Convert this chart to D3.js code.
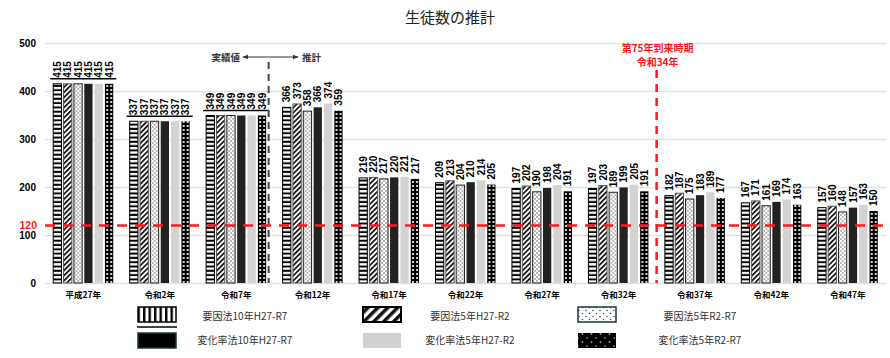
<!DOCTYPE html>
<html>
<head>
<meta charset="utf-8">
<script src="https://cdn.jsdelivr.net/npm/d3@7"></script>
<style>
  html, body { margin: 0; padding: 0; background: #fff; }
  svg { display: block; font-family: "Liberation Sans", Arial, "Noto Sans CJK JP", sans-serif; }
</style>
</head>
<body>
<svg id="chart" width="890" height="358"></svg>
<script>
// ---- data ----
const categories = ["平成27年","令和2年","令和7年","令和12年","令和17年","令和22年","令和27年","令和32年","令和37年","令和42年","令和47年"];
const seriesNames = ["要因法10年H27-R7","要因法5年H27-R2","要因法5年R2-R7","変化率法10年H27-R7","変化率法5年H27-R2","変化率法5年R2-R7"];
const youin10_H27R7 = [415,337,349,366,219,209,197,197,182,167,157];
const youin5_H27R2  = [415,337,349,373,220,213,202,203,187,171,160];
const youin5_R2R7   = [415,337,349,358,217,204,190,189,175,161,148];
const henka10_H27R7 = [415,337,349,366,220,210,198,199,183,169,157];
const henka5_H27R2  = [415,337,349,374,221,214,204,205,189,174,163];
const henka5_R2R7   = [415,337,349,359,217,205,191,191,177,163,150];
const yTicks = [0,100,200,300,400,500];
const refValue = 120;
const refLabel = "120";
const actualCategories = ["平成27年","令和2年","令和7年"];
const milestoneAfter = "令和32年";
const milestoneText = ["第75年到来時期","令和34年"];
const titleText = "生徒数の推計";

const seriesValues = [youin10_H27R7, youin5_H27R2, youin5_R2R7, henka10_H27R7, henka5_H27R2, henka5_R2R7];

// ---- setup ----
const svg = d3.select("#chart");
const defs = svg.append("defs");

function pat(id, w, h, transform) {
  const p = defs.append("pattern").attr("id", id).attr("patternUnits", "userSpaceOnUse")
    .attr("width", w).attr("height", h);
  if (transform) p.attr("patternTransform", transform);
  return p;
}
// bar patterns
let p = pat("pHStripe", 8, 4.3);
p.append("rect").attr("width", 8).attr("height", 4.3).attr("fill", "#000");
p.append("rect").attr("y", 0.9).attr("width", 8).attr("height", 2.3).attr("fill", "#fff");

p = pat("pDiag", 3.6, 3.6, "rotate(45)");
p.append("rect").attr("width", 3.6).attr("height", 3.6).attr("fill", "#fff");
p.append("rect").attr("width", 1.7).attr("height", 3.6).attr("fill", "#111");

p = pat("pDots", 4, 4);
p.append("rect").attr("width", 4).attr("height", 4).attr("fill", "#fff");
p.append("circle").attr("cx", 1).attr("cy", 1).attr("r", 0.65).attr("fill", "#333");
p.append("circle").attr("cx", 3).attr("cy", 3).attr("r", 0.65).attr("fill", "#333");

p = pat("pBlackDots", 4, 4);
p.append("rect").attr("width", 4).attr("height", 4).attr("fill", "#000");
p.append("circle").attr("cx", 2).attr("cy", 2).attr("r", 1.1).attr("fill", "#fff");

// legend patterns
p = pat("lVStripe", 5.5, 6);
p.append("rect").attr("width", 5.5).attr("height", 6).attr("fill", "#fff");
p.append("rect").attr("width", 2.4).attr("height", 6).attr("fill", "#000");

p = pat("lDiag", 7, 7, "rotate(45)");
p.append("rect").attr("width", 7).attr("height", 7).attr("fill", "#fff");
p.append("rect").attr("width", 3.5).attr("height", 7).attr("fill", "#111");

p = pat("lDots", 7, 6);
p.append("rect").attr("width", 7).attr("height", 6).attr("fill", "#fff");
p.append("circle").attr("cx", 1.5).attr("cy", 1.5).attr("r", 0.8).attr("fill", "#555");
p.append("circle").attr("cx", 5).attr("cy", 4.5).attr("r", 0.8).attr("fill", "#555");

p = pat("lBlackDots", 9, 8);
p.append("rect").attr("width", 9).attr("height", 8).attr("fill", "#000");
p.append("circle").attr("cx", 2).attr("cy", 2).attr("r", 0.9).attr("fill", "#777");
p.append("circle").attr("cx", 6.5).attr("cy", 6).attr("r", 0.9).attr("fill", "#999");

const barStyles = [
  {fill: "url(#pHStripe)", stroke: "#000", sw: 1},
  {fill: "url(#pDiag)", stroke: "#555", sw: 1},
  {fill: "url(#pDots)", stroke: "#222", sw: 1},
  {fill: "#222", stroke: "none", sw: 0},
  {fill: "#d3d3d3", stroke: "none", sw: 0},
  {fill: "url(#pBlackDots)", stroke: "none", sw: 0}
];
const legendStyles = [
  {fill: "url(#lVStripe)", stroke: "#000", sw: 1.5},
  {fill: "url(#lDiag)", stroke: "#000", sw: 2},
  {fill: "url(#lDots)", stroke: "#1e3440", sw: 1.5},
  {fill: "#000", stroke: "#1e3440", sw: 1.5},
  {fill: "#d0d0d0", stroke: "none", sw: 0},
  {fill: "url(#lBlackDots)", stroke: "none", sw: 0}
];

// ---- scales ----
const x = d3.scaleBand().domain(categories).range([45, 886]);
const x1 = d3.scaleBand().domain(d3.range(seriesNames.length)).range([0, 60]).paddingInner(0.2);
const innerOff = (x.bandwidth() - 60) / 2;
const y = d3.scaleLinear().domain([0, 500]).range([283, 43]);

// ---- title ----
svg.append("text").attr("x", 450).attr("y", 23).attr("text-anchor", "middle")
  .attr("font-size", 15).attr("fill", "#222").attr("font-family", "'Noto Sans CJK JP', sans-serif")
  .text(titleText);

// ---- y axis + gridlines ----
const yAxis = svg.append("g").attr("transform", "translate(45,0)")
  .call(d3.axisLeft(y).tickValues(yTicks).tickSize(-841).tickPadding(9));
yAxis.select(".domain").remove();
yAxis.selectAll(".tick line").attr("stroke", "#e2e2e2").attr("stroke-width", 1.5);
yAxis.selectAll(".tick text").attr("font-size", 10).attr("font-weight", "bold").attr("fill", "#000")
  .attr("font-family", "'Liberation Sans', Arial, sans-serif");

// ---- x axis labels ----
const xAxis = svg.append("g").attr("transform", "translate(0,283)")
  .call(d3.axisBottom(x).tickSize(0).tickPadding(9));
xAxis.select(".domain").remove();
xAxis.selectAll(".tick text").attr("font-size", 8.5).attr("font-weight", "bold").attr("fill", "#000")
  .attr("font-family", "'Noto Sans CJK JP', sans-serif");

// ---- bars ----
const groups = svg.append("g").selectAll("g").data(categories).join("g")
  .attr("transform", d => `translate(${x(d) + innerOff},0)`);

groups.each(function(cat, ci) {
  const g = d3.select(this);
  const vals = seriesValues.map(s => s[ci]);
  const isActual = actualCategories.includes(cat);
  g.selectAll("rect").data(vals).join("rect")
    .attr("x", (d, i) => x1(i))
    .attr("width", x1.bandwidth())
    .attr("y", d => y(d))
    .attr("height", d => y(0) - y(d))
    .attr("fill", (d, i) => barStyles[i].fill)
    .attr("stroke", (d, i) => barStyles[i].stroke)
    .attr("stroke-width", (d, i) => barStyles[i].sw);
  g.selectAll("text.val").data(vals).join("text").attr("class", "val")
    .attr("transform", (d, i) => `translate(${x1(i) + x1.bandwidth() / 2},${y(d) - (isActual ? 6 : 5)}) rotate(-90)`)
    .attr("dy", "0.36em")
    .attr("font-size", 10).attr("font-weight", "bold").attr("fill", "#000")
    .attr("font-family", "'Liberation Sans', Arial, sans-serif")
    .text(d => d);
  if (isActual) {
    const top = d3.max(vals);
    g.append("line").attr("x1", -3).attr("x2", 63)
      .attr("y1", y(top) - 5).attr("y2", y(top) - 5)
      .attr("stroke", "#000").attr("stroke-width", 1.5);
  }
});

// ---- actual / projection divider ----
const lastActual = actualCategories[actualCategories.length - 1];
const divX = x(lastActual) + innerOff + 62.5;
svg.append("line").attr("x1", divX).attr("x2", divX).attr("y1", 62).attr("y2", y(0))
  .attr("stroke", "#444").attr("stroke-width", 2).attr("stroke-dasharray", "7,5");
svg.append("text").attr("x", 240).attr("y", 61).attr("text-anchor", "end")
  .attr("font-size", 9.5).attr("font-weight", "bold").attr("fill", "#333")
  .attr("font-family", "'Noto Sans CJK JP', sans-serif").text("実績値");
svg.append("text").attr("x", 302).attr("y", 61).attr("text-anchor", "start")
  .attr("font-size", 9.5).attr("font-weight", "bold").attr("fill", "#333")
  .attr("font-family", "'Noto Sans CJK JP', sans-serif").text("推計");
defs.append("marker").attr("id", "arr").attr("viewBox", "0 0 10 10").attr("refX", 9).attr("refY", 5)
  .attr("markerWidth", 6).attr("markerHeight", 6).attr("orient", "auto-start-reverse")
  .append("path").attr("d", "M0,1 L10,5 L0,9 z").attr("fill", "#333");
svg.append("line").attr("x1", 243).attr("x2", 298).attr("y1", 57).attr("y2", 57)
  .attr("stroke", "#333").attr("stroke-width", 1)
  .attr("marker-start", "url(#arr)").attr("marker-end", "url(#arr)");

// ---- reference line 120 ----
svg.append("line").attr("x1", 45).attr("x2", 886).attr("y1", y(refValue)).attr("y2", y(refValue))
  .attr("stroke", "#ff1a1a").attr("stroke-width", 2.5).attr("stroke-dasharray", "10,8");
svg.append("text").attr("x", 37).attr("y", y(refValue)).attr("dy", "0.36em").attr("text-anchor", "end")
  .attr("font-size", 10.5).attr("font-weight", "bold").attr("fill", "#ff1a1a")
  .attr("font-family", "'Liberation Sans', Arial, sans-serif").text(refLabel);

// ---- milestone line ----
const msIdx = categories.indexOf(milestoneAfter);
const msX = x(categories[msIdx + 1]);
svg.append("line").attr("x1", msX).attr("x2", msX).attr("y1", 70).attr("y2", y(0))
  .attr("stroke", "#ff1a1a").attr("stroke-width", 2.5).attr("stroke-dasharray", "8,6");
milestoneText.forEach((t, i) => {
  svg.append("text").attr("x", msX + 1).attr("y", 51.5 + i * 14.5).attr("text-anchor", "middle")
    .attr("font-size", 10).attr("font-weight", "bold").attr("fill", "#ff1a1a")
    .attr("font-family", "'Noto Sans CJK JP', sans-serif").text(t);
});

// ---- legend ----
const legCols = [{sx: 138, tx: 245}, {sx: 363, tx: 470}, {sx: 578, tx: 700}];
const legRows = [{sy: 307, ty: 319}, {sy: 333, ty: 343}];
const legendOrder = [0, 1, 2, 3, 4, 5];
const leg = svg.append("g");
legendOrder.forEach((si, k) => {
  const c = legCols[k % 3], r = legRows[Math.floor(k / 3)];
  const st = legendStyles[si];
  leg.append("rect").attr("x", c.sx).attr("y", r.sy).attr("width", 38).attr("height", 15)
    .attr("fill", st.fill).attr("stroke", st.stroke).attr("stroke-width", st.sw);
  leg.append("text").attr("x", c.tx).attr("y", r.ty).attr("dy", "0.1em").attr("text-anchor", "middle")
    .attr("font-size", 10).attr("fill", "#333")
    .attr("font-family", "'Noto Sans CJK JP', sans-serif").text(seriesNames[si]);
});
leg.append("line").attr("x1", 137).attr("x2", 177).attr("y1", 327).attr("y2", 327)
  .attr("stroke", "#000").attr("stroke-width", 1.5);
</script>
</body>
</html>
